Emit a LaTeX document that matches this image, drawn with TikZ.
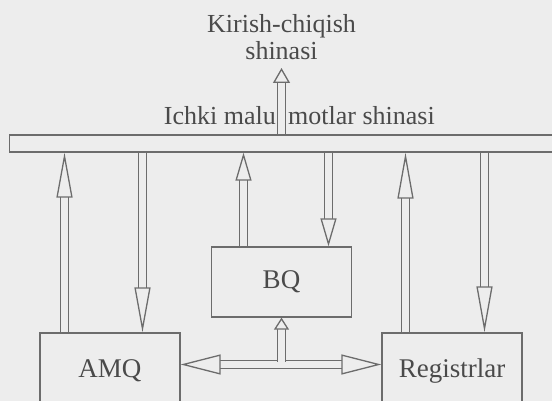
\documentclass[tikz,border=0pt]{standalone}
\usepackage{fontspec}
\setmainfont{Liberation Serif}
\usetikzlibrary{arrows.meta,positioning}
\definecolor{paper}{HTML}{EDEDED}
\definecolor{ink}{HTML}{6C6C6C}
\definecolor{txt}{HTML}{4A4A4A}

\begin{document}
\begin{tikzpicture}[x=1pt,y=-1pt,
  hd/.tip={Triangle[fill=paper,line width=1.3pt]},
  box/.style={draw=ink,line width=1.3pt,minimum width=140pt,text=txt,
    font=\fontsize{27}{30}\selectfont},
  lbl/.style={text=txt,font=\fontsize{26}{27}\selectfont,inner sep=0pt},
  dbl/.style={draw=ink,line width=1.3pt,double=paper,double distance=6.7pt}]
  \fill[paper] (0,0) rectangle (552,401);
  \useasboundingbox (0,0) rectangle (552,401);
  \clip (0,0) rectangle (552,401);
  % blocks
  \node[box,minimum height=80pt,text height=18pt,text depth=10pt] (amq) at (110,373) {AMQ};
  \node[box,minimum height=80pt,text height=18pt,text depth=10pt] (reg) at (452,373) {Registrlar};
  \node[box,minimum height=70pt] (bq) at (281.5,282) {BQ};
  \node[draw=ink,line width=1.3pt,minimum width=600pt,minimum height=17pt,
    inner sep=0pt,anchor=west] (bus) at (9,143.5) {};
  % labels
  \node[lbl,align=center,anchor=south,inner ysep=8pt] (io) at (281.5,68) {Kirish-chiqish\\shinasi};
  \node[lbl,anchor=base east] (busA) at (276,125) {Ichki malu};
  \node[lbl,anchor=base west] (busB) at (288,125) {motlar shinasi};
  % bus <-> blocks
  \draw[dbl,-{hd[length=15pt,width=17pt]}] (bus.north -| io.south) -- (io.south);
  \foreach \n/\u/\d/\tl in {amq/-45.5/32.5/45,bq/-38/47/28,reg/-46.5/32.5/46} {
    \draw[dbl,-{hd[length=\tl pt,width=16pt]}]
      ([xshift=\u pt]\n.north) -- ([xshift=\u pt]\n.north |- bus.south);
    \draw[dbl,-{hd[length=\tl pt,width=16pt]}]
      ([xshift=\d pt]\n.north |- bus.south) -- ([xshift=\d pt]\n.north);
  }
  % AMQ <-> Registrlar, with BQ
  \draw[dbl,{hd[length=40pt,width=20pt]}-{hd[length=40pt,width=20pt]}]
    ([yshift=8.5pt]amq.east) -- ([yshift=8.5pt]reg.west);
  \coordinate (jn) at ([yshift=11.5pt]amq.east -| bq.south);
  \draw[dbl,-{hd[length=12pt,width=15pt]}] (jn) -- (bq.south);
\end{tikzpicture}
\end{document}
